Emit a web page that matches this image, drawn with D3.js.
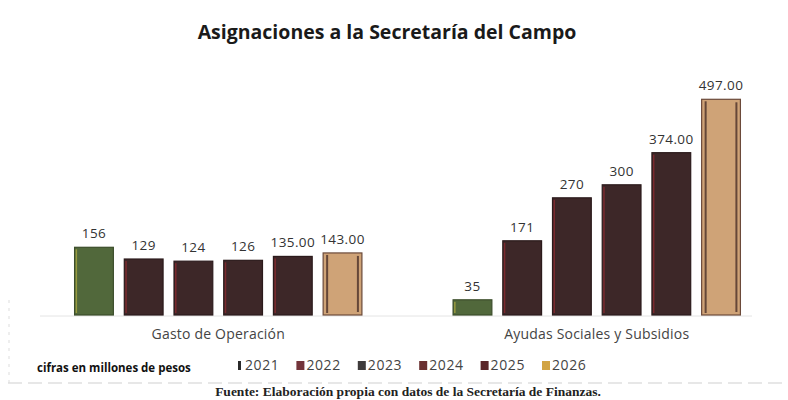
<!DOCTYPE html>
<html>
<head>
<meta charset="utf-8">
<script src="https://cdn.jsdelivr.net/npm/d3@7"></script>
<style>
	body { margin: 0; background: #ffffff; }
	text { font-family: 'Open Sans', sans-serif; }
</style>
</head>
<body>
<div class="chart-container"></div>
<script>

const categories = ['Gasto de Operación', 'Ayudas Sociales y Subsidios'];
const years = ['2021', '2022', '2023', '2024', '2025', '2026'];

// one array per category, one value per year
const gastoOperacion = [156, 129, 124, 126, 135, 143];
const ayudasSociales = [35, 171, 270, 300, 374, 497];

// labels as printed on the original
const gastoLabels = ['156', '129', '124', '126', '135.00', '143.00'];
const ayudasLabels = ['35', '171', '270', '300', '374.00', '497.00'];

const width = 788;
const height = 400;

const barColors = ['#51683b', '#3d2728', '#3d2728', '#3d2728', '#3d2728', '#cfa377'];
const barStrokes = ['#3b4d2a', '#2b1a1b', '#2b1a1b', '#2b1a1b', '#2b1a1b', '#6b4a3a'];
const edgeColors = ['#a9a640', '#8a2a30', '#8a2a30', '#8a2a30', '#8a2a30', '#4a3028'];
const legendColors = ['#2a2a2a', '#74343a', '#3f3b3b', '#6a3030', '#5a2528', '#d2a444'];

const rows = categories.map((c, i) => ({
	category: c,
	values: i === 0 ? gastoOperacion : ayudasSociales,
	labels: i === 0 ? gastoLabels : ayudasLabels
}))

const svg = d3.select('.chart-container')
.append('svg')
.attr('width', width)
.attr('height', height);

let x0 = d3.scaleBand()
.domain(categories)
.range([29, 786])
.paddingInner(0.212)
.paddingOuter(0.106);

let x1 = d3.scaleBand()
.domain(years)
.range([0, x0.bandwidth()])
.paddingInner(0.22)
.paddingOuter(0.11);

let y = d3.scaleLinear()
.domain([0, 500])
.range([315, 98]);

// title
svg.append('text')
.attr('x', 387)
.attr('y', 39)
.attr('text-anchor', 'middle')
.style('font-size', '19.5px')
.style('font-weight', 700)
.attr('fill', '#1a1a1a')
.text('Asignaciones a la Secretaría del Campo')

// faint baseline
svg.append('line')
.attr('x1', 40)
.attr('x2', 752)
.attr('y1', y(0) + 1)
.attr('y2', y(0) + 1)
.attr('stroke', '#e4e4e4')
.attr('stroke-width', 1)

const groups = svg.append('g')
.selectAll('g')
.data(rows)
.enter()
.append('g')
.attr('transform', d => `translate(${x0(d.category)},0)`)

groups.selectAll('rect.bar')
.data(d => d.values.map((v, i) => ({ year: years[i], value: v, label: d.labels[i], i: i })))
.enter()
.append('rect')
.attr('class', 'bar')
.attr('x', d => x1(d.year))
.attr('y', d => y(d.value))
.attr('width', x1.bandwidth())
.attr('height', d => y(0) - y(d.value))
.attr('fill', d => barColors[d.i])
.attr('stroke', d => barStrokes[d.i])
.attr('stroke-width', 1.2)

// thin coloured edge on the left side of each bar
groups.selectAll('rect.edge')
.data(d => d.values.map((v, i) => ({ year: years[i], value: v, i: i })))
.enter()
.append('rect')
.attr('class', 'edge')
.attr('x', d => x1(d.year) + (d.i === 5 ? 3 : 1))
.attr('y', d => y(d.value) + 2)
.attr('width', d => d.i === 5 ? 2 : 1.5)
.attr('height', d => Math.max(0, y(0) - y(d.value) - 4))
.attr('fill', d => edgeColors[d.i])
.attr('opacity', 0.8)

// inner right line of the 2026 bar
groups.selectAll('rect.inner')
.data(d => [{ year: years[5], value: d.values[5] }])
.enter()
.append('rect')
.attr('x', d => x1(d.year) + x1.bandwidth() - 5)
.attr('y', d => y(d.value) + 3)
.attr('width', 2)
.attr('height', d => y(0) - y(d.value) - 6)
.attr('fill', '#4a3028')
.attr('opacity', 0.8)

groups.selectAll('text.value')
.data(d => d.values.map((v, i) => ({ year: years[i], value: v, label: d.labels[i] })))
.enter()
.append('text')
.attr('class', 'value')
.attr('x', d => x1(d.year) + x1.bandwidth() / 2)
.attr('y', d => y(d.value) - 9)
.attr('text-anchor', 'middle')
.style('font-size', '13.5px')
.style('letter-spacing', '0.4px')
.attr('fill', '#333333')
.text(d => d.label)

// category axis labels
svg.append('g')
.selectAll('text')
.data(categories)
.enter()
.append('text')
.attr('x', d => x0(d) + x0.bandwidth() / 2)
.attr('y', 339)
.attr('text-anchor', 'middle')
.style('font-size', '14px')
.style('letter-spacing', '0.2px')
.attr('fill', '#444444')
.text(d => d)

// legend
let lx = d3.scalePoint()
.domain(years)
.range([245, 552]);

const legend = svg.append('g')
.selectAll('g')
.data(years)
.enter()
.append('g')
.attr('transform', d => `translate(${lx(d)},0)`)

legend.append('rect')
.attr('x', (d, i) => i === 0 ? -7 : -10)
.attr('y', 361)
.attr('width', (d, i) => i === 0 ? 3 : 8)
.attr('height', 9)
.attr('fill', (d, i) => legendColors[i])

legend.append('text')
.attr('x', 0)
.attr('y', 370)
.style('font-size', '14px')
.style('letter-spacing', '0.6px')
.attr('fill', '#444444')
.text(d => d)

svg.append('text')
.attr('x', 37)
.attr('y', 372)
.style('font-size', '11.5px')
.style('font-weight', 700)
.attr('fill', '#111111')
.text('cifras en millones de pesos')

// scanned frame lines
svg.append('line')
.attr('x1', 8)
.attr('x2', 788)
.attr('y1', 383)
.attr('y2', 383)
.attr('stroke', '#cfcfcf')
.attr('stroke-width', 1)
.attr('stroke-dasharray', '14 6')

svg.append('line')
.attr('x1', 9)
.attr('x2', 9)
.attr('y1', 300)
.attr('y2', 383)
.attr('stroke', '#dddddd')
.attr('stroke-width', 1)
.attr('stroke-dasharray', '3 5')

svg.append('text')
.attr('x', 408)
.attr('y', 396)
.attr('text-anchor', 'middle')
.style('font-family', "'Liberation Serif', serif")
.style('font-size', '13.5px')
.style('font-weight', 700)
.attr('fill', '#222222')
.text('Fuente: Elaboración propia con datos de la Secretaría de Finanzas.')

</script>
</body>
</html>
